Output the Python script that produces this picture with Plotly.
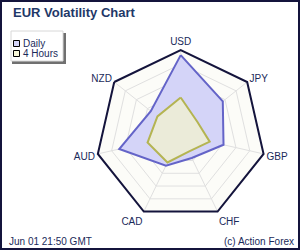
import plotly.graph_objects as go

categories = ["USD", "JPY", "GBP", "CHF", "CAD", "AUD", "NZD"]
daily = [5.64, 3.8, 3.1, 1.8, 2.4, 4.45, 2.7]
four_hours = [2.65, 1.5, 2.1, 1.3, 2.15, 2.4, 2.1]
series_names = ["Daily", "4 Hours"]
title_text = "EUR Volatility Chart"
footer_left = "Jun 01 21:50 GMT"
footer_right = "(c) Action Forex"

NAVY = "#14143c"
TXT = "#1a2a5a"

fig = go.Figure()
fig.add_trace(go.Scatterpolar(
    r=daily + daily[:1], theta=categories + categories[:1],
    mode="lines", fill="toself", fillcolor="#d4d4f8",
    line=dict(color="#6464c8", width=2), name=series_names[0],
    showlegend=False, hoverinfo="skip"))
fig.add_trace(go.Scatterpolar(
    r=four_hours + four_hours[:1], theta=categories + categories[:1],
    mode="lines", fill="toself", fillcolor="#ebebd9",
    line=dict(color="#b4b452", width=2), name=series_names[1],
    showlegend=False, hoverinfo="skip"))

cx, cy, R = 180.7, 135.0, 85.0
W, H = 300, 250

fig.update_layout(
    width=W, height=H,
    margin=dict(l=0, r=0, t=0, b=0),
    paper_bgcolor="white",
    showlegend=False,
    font=dict(family="Liberation Sans, Arial, sans-serif", color=TXT),
    polar=dict(
        domain=dict(x=[(cx - R) / W, (cx + R) / W],
                    y=[(H - cy - R) / H, (H - cy + R) / H]),
        gridshape="linear",
        bgcolor="#fcfcf8",
        radialaxis=dict(range=[0, 6], tickvals=[1, 2, 3, 4, 5, 6],
                        showticklabels=False, ticks="", showline=False,
                        gridcolor="#e0e0e0", gridwidth=1),
        angularaxis=dict(direction="clockwise", rotation=90,
                         categoryorder="array", categoryarray=categories,
                         showline=True, linecolor=NAVY, linewidth=2,
                         gridcolor="#e0e0e0", ticks="",
                         tickfont=dict(size=10, color=TXT)),
    ),
)

def px(x):
    return x / W

def py(y):
    return 1 - y / H

shapes = [
    # outer border
    dict(type="rect", xref="paper", yref="paper", x0=px(1), x1=px(299), y0=py(1), y1=py(249),
         line=dict(color=NAVY, width=2)),
    # legend shadow
    dict(type="rect", xref="paper", yref="paper", x0=px(63), x1=px(66), y0=py(33), y1=py(64),
         line=dict(width=0), fillcolor="#707070"),
    dict(type="rect", xref="paper", yref="paper", x0=px(12), x1=px(66), y0=py(61), y1=py(64),
         line=dict(width=0), fillcolor="#707070"),
    # legend box
    dict(type="rect", xref="paper", yref="paper", x0=px(11), x1=px(63), y0=py(31), y1=py(61),
         line=dict(color="#d8d8d8", width=1), fillcolor="white"),
    # legend squares
    dict(type="rect", xref="paper", yref="paper", x0=px(13.5), x1=px(19.5), y0=py(40.5), y1=py(46.5),
         line=dict(color="#000000", width=1), fillcolor="#d4d4f8"),
    dict(type="rect", xref="paper", yref="paper", x0=px(13.5), x1=px(19.5), y0=py(50.5), y1=py(56.5),
         line=dict(color="#000000", width=1), fillcolor="#f8f8d8"),
]
fig.update_layout(shapes=shapes)

anns = [
    dict(text="<b>%s</b>" % title_text, x=px(11), y=py(12), xanchor="left", yanchor="middle",
         font=dict(size=13, color="#1f3868")),
    dict(text=series_names[0], x=px(20.5), y=py(43.5), xanchor="left", yanchor="middle",
         font=dict(size=10, color=TXT)),
    dict(text=series_names[1], x=px(20.5), y=py(53.5), xanchor="left", yanchor="middle",
         font=dict(size=10, color=TXT)),
    dict(text=footer_left, x=px(7), y=py(241.5), xanchor="left", yanchor="middle",
         font=dict(size=10, color=TXT)),
    dict(text=footer_right, x=px(296), y=py(241.5), xanchor="right", yanchor="middle",
         font=dict(size=10, color=TXT)),
]
for a in anns:
    a.update(xref="paper", yref="paper", showarrow=False)
fig.update_layout(annotations=anns)

fig.write_html("out.html")
